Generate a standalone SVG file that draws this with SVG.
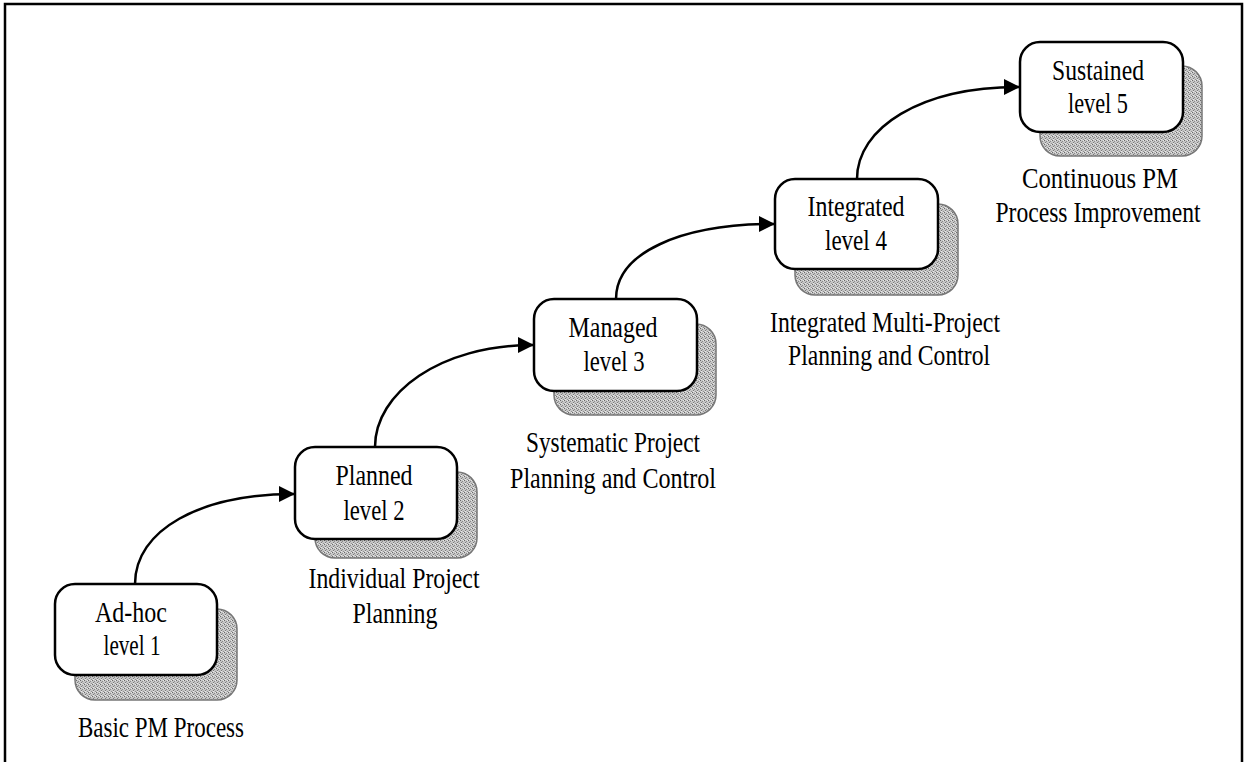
<svg xmlns="http://www.w3.org/2000/svg" width="1248" height="762" viewBox="0 0 1248 762">
<defs>
<pattern id="stip" width="4" height="4" patternUnits="userSpaceOnUse">
<rect width="4" height="4" fill="#c6c6c6"/>
<rect x="0" y="0" width="1" height="1" fill="#6a6a6a"/>
<rect x="2" y="1" width="1" height="1" fill="#8a8a8a"/>
<rect x="1" y="2" width="1" height="1" fill="#7a7a7a"/>
<rect x="3" y="3" width="1" height="1" fill="#909090"/>
<rect x="3" y="0" width="1" height="1" fill="#e8e8e8"/>
<rect x="1" y="3" width="1" height="1" fill="#e8e8e8"/>
</pattern>
<marker id="ah" markerWidth="16" markerHeight="16" refX="15" refY="8" orient="auto" markerUnits="userSpaceOnUse">
<path d="M0,0 L16,8 L0,16 Z" fill="#000"/>
</marker>
</defs>
<style>
.box{fill:#fff;stroke:#000;stroke-width:2.5}
.shadow{fill:url(#stip);stroke:#777;stroke-width:1.5}
.t{font-family:"Liberation Serif","Times New Roman",serif;font-size:29px;fill:#000;text-anchor:middle}
.c{fill:none;stroke:#000;stroke-width:2.5}
.frame{fill:none;stroke:#000;stroke-width:2.5}
</style>
<rect width="1248" height="762" fill="#fff"/>
<path class="frame" d="M5,762 L5,4 L1242,4 L1242,762"/>

<g id="connectors">
<path class="c" d="M135,584 C135,530 200,494 294,494" marker-end="url(#ah)"/>
<path class="c" d="M375,447 C375,393 440,345 533,345" marker-end="url(#ah)"/>
<path class="c" d="M616,299 C616,253 680,224 774,224" marker-end="url(#ah)"/>
<path class="c" d="M857,179 C857,128 920,87 1019,87" marker-end="url(#ah)"/>
</g>

<g id="node1">
<rect class="shadow" x="75" y="609" width="162" height="91" rx="20"/>
<rect class="box" x="55" y="584" width="162" height="91" rx="20"/>
<text class="t" x="131" y="622" textLength="72" lengthAdjust="spacingAndGlyphs">Ad-hoc</text>
<text class="t" x="132" y="655" textLength="57" lengthAdjust="spacingAndGlyphs">level 1</text>
<text class="t" x="161" y="737" textLength="166" lengthAdjust="spacingAndGlyphs">Basic PM Process</text>
</g>

<g id="node2">
<rect class="shadow" x="315" y="472" width="162" height="86" rx="20"/>
<rect class="box" x="295" y="447" width="162" height="92" rx="20"/>
<text class="t" x="374" y="485" textLength="77" lengthAdjust="spacingAndGlyphs">Planned</text>
<text class="t" x="374" y="520" textLength="61" lengthAdjust="spacingAndGlyphs">level 2</text>
<text class="t" x="394" y="588" textLength="171" lengthAdjust="spacingAndGlyphs">Individual Project</text>
<text class="t" x="395" y="623" textLength="85" lengthAdjust="spacingAndGlyphs">Planning</text>
</g>

<g id="node3">
<rect class="shadow" x="554" y="324" width="162" height="91" rx="20"/>
<rect class="box" x="534" y="299" width="163" height="92" rx="20"/>
<text class="t" x="613" y="337" textLength="89" lengthAdjust="spacingAndGlyphs">Managed</text>
<text class="t" x="614" y="371" textLength="61" lengthAdjust="spacingAndGlyphs">level 3</text>
<text class="t" x="613" y="452" textLength="174" lengthAdjust="spacingAndGlyphs">Systematic Project</text>
<text class="t" x="613" y="488" textLength="206" lengthAdjust="spacingAndGlyphs">Planning and Control</text>
</g>

<g id="node4">
<rect class="shadow" x="795" y="204" width="163" height="91" rx="20"/>
<rect class="box" x="775" y="179" width="163" height="90" rx="20"/>
<text class="t" x="856" y="216" textLength="97" lengthAdjust="spacingAndGlyphs">Integrated</text>
<text class="t" x="856" y="250" textLength="62" lengthAdjust="spacingAndGlyphs">level 4</text>
<text class="t" x="885" y="332" textLength="230" lengthAdjust="spacingAndGlyphs">Integrated Multi-Project</text>
<text class="t" x="889" y="365" textLength="202" lengthAdjust="spacingAndGlyphs">Planning and Control</text>
</g>

<g id="node5">
<rect class="shadow" x="1040" y="66" width="162" height="90" rx="20"/>
<rect class="box" x="1020" y="42" width="163" height="90" rx="20"/>
<text class="t" x="1098" y="80" textLength="92" lengthAdjust="spacingAndGlyphs">Sustained</text>
<text class="t" x="1098" y="113" textLength="60" lengthAdjust="spacingAndGlyphs">level 5</text>
<text class="t" x="1100" y="188" textLength="156" lengthAdjust="spacingAndGlyphs">Continuous PM</text>
<text class="t" x="1098" y="222" textLength="205" lengthAdjust="spacingAndGlyphs">Process Improvement</text>
</g>
</svg>
